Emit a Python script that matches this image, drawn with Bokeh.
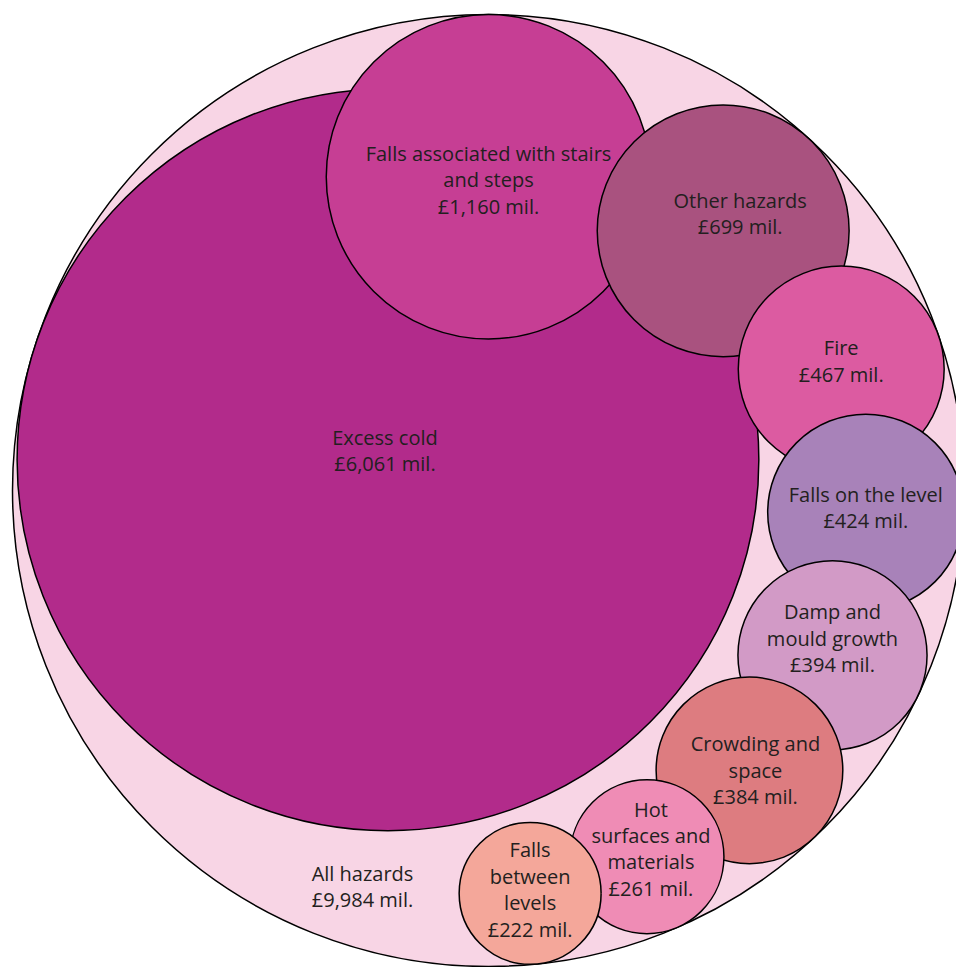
import math
from bokeh.plotting import figure
from bokeh.models import ColumnDataSource, Range1d
from bokeh.core.properties import value
from bokeh.embed import file_html
from bokeh.resources import INLINE

# ---- data ----
total_name = "All hazards"
total_value = 9984
names = [
    "Excess cold",
    "Falls associated with stairs\nand steps",
    "Other hazards",
    "Fire",
    "Falls on the level",
    "Damp and\nmould growth",
    "Crowding and\nspace",
    "Hot\nsurfaces and\nmaterials",
    "Falls\nbetween\nlevels",
]
values = [6061, 1160, 699, 467, 424, 394, 384, 261, 222]
colors = ["#B22B8B", "#C63E94", "#A9527F", "#DC5BA1", "#A882B9",
          "#D29AC6", "#DD7C80", "#EF8CB5", "#F4A79A"]
outer_color = "#F8D5E5"

# ---- layout (angle around outer circle, label nudges in px) ----
R = 476.0
angles = [163.0, 90.0, 47.9, 19.0, -3.3, -25.6, -47.0, -66.6, -84.1]
label_dx = [-3, 0, 17, 0, 0, 0, 6, 4, 0]
label_dy = [-9, 3, -17, -8, -5, -17, 0, -8, -4]   # screen px, + = down
total_label_dx, total_label_dy = -126, 396

radii = [R * math.sqrt(v / total_value) for v in values]
xs, ys = [], []
for a, r in zip(angles, radii):
    d = R - r
    xs.append(d * math.cos(math.radians(a)))
    ys.append(d * math.sin(math.radians(a)))

labels = [f"{n}\n£{v:,} mil." for n, v in zip(names, values)]
lx = [x + dx for x, dx in zip(xs, label_dx)]
ly = [y - dy for y, dy in zip(ys, label_dy)]

W, H = 956, 967
p = figure(width=W, height=H, output_backend="svg", toolbar_location=None,
           x_range=Range1d(-488, W - 488), y_range=Range1d(490 - H, 490),
           min_border=0, outline_line_color=None)
p.axis.visible = False
p.grid.visible = False
p.background_fill_color = "white"
p.border_fill_color = "white"

p.circle(x=[0], y=[0], radius=[R], fill_color=outer_color, line_color="black", line_width=1.5)

src = ColumnDataSource(dict(x=xs, y=ys, r=radii, c=colors))
p.circle(x="x", y="y", radius="r", fill_color="c", line_color="black", line_width=1.5, source=src)

tsrc = ColumnDataSource(dict(x=lx, y=ly, t=labels))
p.text(x="x", y="y", text="t", source=tsrc, text_align="center", text_baseline="middle",
       text_font=value("Open Sans"), text_font_size="20px", text_color="#231f20",
       text_line_height=0.98)

p.text(x=[total_label_dx], y=[-total_label_dy], text=[f"{total_name}\n£{total_value:,} mil."],
       text_align="center", text_baseline="middle",
       text_font=value("Open Sans"), text_font_size="20px", text_color="#231f20",
       text_line_height=0.98)

open("out.html", "w").write(file_html(p, INLINE))
